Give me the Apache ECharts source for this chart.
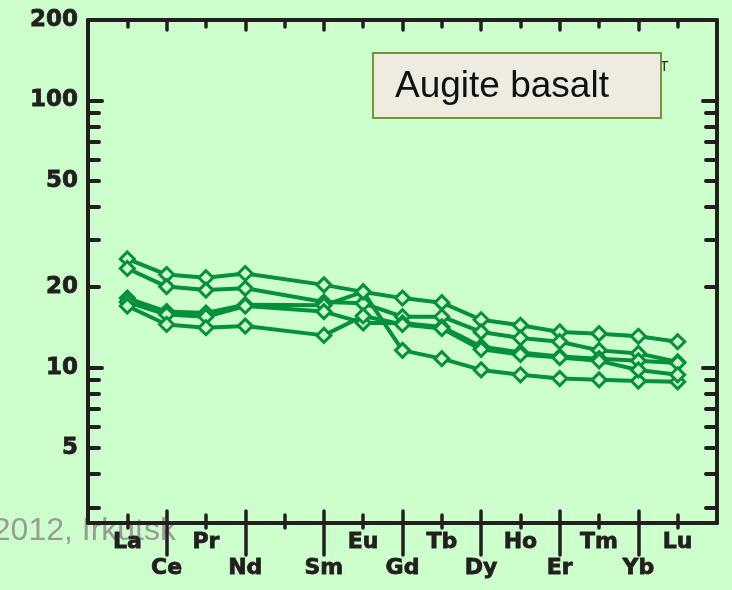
<!DOCTYPE html>
<html>
<head>
<meta charset="utf-8">
<script src="https://cdn.jsdelivr.net/npm/echarts@6/dist/echarts.min.js"></script>
<style>
html,body{margin:0;padding:0;background:#CCFFCC;}
#chart{width:732px;height:590px;}
</style>
</head>
<body>
<div id="chart"></div>
<script>
// ---- data ----
const elements = ['La','Ce','Pr','Nd','Pm','Sm','Eu','Gd','Tb','Dy','Ho','Er','Tm','Yb','Lu'];
const upperLabels = ['La','Pr','Eu','Tb','Ho','Tm','Lu'];
const lowerLabels = ['Ce','Nd','Sm','Gd','Dy','Er','Yb'];
const yLabelValues = [5,10,20,50,100,200];
const yMajorTicks = [10,100];
const yMinorTicks = [3,4,5,6,7,8,9,20,30,40,50,60,70,80,90];

const sample1 = [25.5,22.3,21.7,22.5,null,20.4,19.2,18.2,17.5,15.1,14.4,13.6,13.4,13.1,12.5];
const sample2 = [23.5,20.1,19.5,19.8,null,17.6,17.4,15.5,15.5,13.6,12.9,12.5,11.6,11.3,10.5];
const sample3 = [18.2,16.2,16.0,17.2,null,17.1,19.2,11.6,10.8,9.8,9.4,9.1,9.0,8.9,8.85];
const sample4 = [17.6,15.8,15.5,17.0,null,16.2,14.7,14.7,14.2,12.0,11.4,11.0,10.8,10.6,10.4];
const sample5 = [17.0,14.5,14.1,14.3,null,13.2,15.6,14.5,14.0,11.7,11.2,10.9,10.6,9.8,9.4];
const samples = [sample1,sample2,sample3,sample4,sample5];

const legendTitle = 'Augite basalt';
const footerText = '2012, Irkutsk';

// ---- styling ----
const GREEN = '#05903c';
const BG = '#CCFFCC';
const INK = '#231f20';
const FONT = 'DejaVu Sans';

const pos = name => elements.indexOf(name) + 1;
const allPos = elements.map((e,i)=>i+1);
const evenPos = allPos.filter(p=>p%2===0);
const oddPos = allPos.filter(p=>p%2===1);
const upperPos = upperLabels.map(pos);
const lowerPos = lowerLabels.map(pos);

const X_MIN = 0, X_MAX = 16, Y_MIN = 2.62, Y_MAX = 200;

function xAx(o){
  return Object.assign({
    type:'value', min:X_MIN, max:X_MAX, position:'bottom',
    axisLine:{show:false, onZero:false}, splitLine:{show:false},
    axisTick:{show:false}, axisLabel:{show:false}
  }, o);
}
function yAx(o){
  return Object.assign({
    type:'log', min:Y_MIN, max:Y_MAX, position:'left',
    axisLine:{show:false, onZero:false}, splitLine:{show:false},
    axisTick:{show:false}, axisLabel:{show:false}
  }, o);
}
const lineBlack = w => ({color:INK, width:w, cap:'round'});
const labelStyle = {color:INK, fontFamily:FONT, fontWeight:'bold', fontSize:22,
  textBorderColor:INK, textBorderWidth:0.8};
const frameLine = {show:true, onZero:false, lineStyle:{color:INK, width:4}};

const option = {
  backgroundColor: BG,
  animation:false,
  grid:{left:88, right:15, top:20, bottom:67, containLabel:false},
  xAxis:[
    xAx({axisLine:frameLine,
         axisTick:{show:true, inside:true, length:12, customValues:evenPos, lineStyle:lineBlack(3.5)},
         axisLabel:{show:true, customValues:lowerPos, margin:34, formatter:v=>elements[v-1], ...labelStyle}}),
    xAx({axisTick:{show:true, inside:false, length:32, customValues:evenPos, lineStyle:lineBlack(3.5)},
         axisLabel:{show:true, customValues:upperPos, margin:8, formatter:v=>elements[v-1], ...labelStyle}}),
    xAx({axisTick:{show:true, inside:true, length:8, customValues:oddPos, lineStyle:lineBlack(3.5)}}),
    xAx({axisTick:{show:true, inside:false, length:5, customValues:oddPos, lineStyle:lineBlack(3.5)}}),
    xAx({position:'top', axisLine:frameLine,
         axisTick:{show:true, inside:true, length:7, customValues:oddPos, lineStyle:lineBlack(3.5)}}),
    xAx({position:'top', axisTick:{show:true, inside:true, length:10, customValues:evenPos, lineStyle:lineBlack(3.5)}})
  ],
  yAxis:[
    yAx({axisLine:frameLine,
         axisTick:{show:true, inside:true, length:14, customValues:yMajorTicks, lineStyle:lineBlack(4)},
         axisLabel:{show:true, customValues:yLabelValues, margin:10, ...labelStyle, fontSize:23}}),
    yAx({axisTick:{show:true, inside:true, length:11, customValues:yMinorTicks, lineStyle:lineBlack(4)}}),
    yAx({position:'right', axisLine:frameLine,
         axisTick:{show:true, inside:true, length:14, customValues:yMajorTicks, lineStyle:lineBlack(4)}}),
    yAx({position:'right', axisTick:{show:true, inside:true, length:11, customValues:yMinorTicks, lineStyle:lineBlack(4)}})
  ],
  graphic:[
    {type:'text', z:-5, style:{text:footerText, x:176, y:531, align:'right', verticalAlign:'middle',
      font:'32px "Liberation Sans", Arial, sans-serif', fill:'#9a9a9a'}},
    {type:'text', z:5, style:{text:'T', x:660, y:67, verticalAlign:'middle',
      font:'14px "Liberation Sans", Arial, sans-serif', fill:INK}},
    {type:'rect', z:10, shape:{x:373, y:53, width:288, height:65},
      style:{fill:'#EEECE1', stroke:'#77933C', lineWidth:2}},
    {type:'text', z:11, style:{text:legendTitle, x:395, y:87, verticalAlign:'middle',
      font:'37px "Liberation Sans", Arial, sans-serif', fill:'#111'}}
  ],
  series: samples.map((s,k)=>({
    type:'line', xAxisIndex:0, yAxisIndex:0,
    data: s.map((v,i)=>[i+1, v]),
    connectNulls:true,
    symbol:'diamond', symbolSize:14, showSymbol:true,
    lineStyle:{color:GREEN, width:4},
    itemStyle:{color:BG, borderColor:GREEN, borderWidth:3},
    z: 3
  }))
};

const chart = echarts.init(document.getElementById('chart'), null, {renderer:'canvas'});
chart.setOption(option);
</script>
</body>
</html>
